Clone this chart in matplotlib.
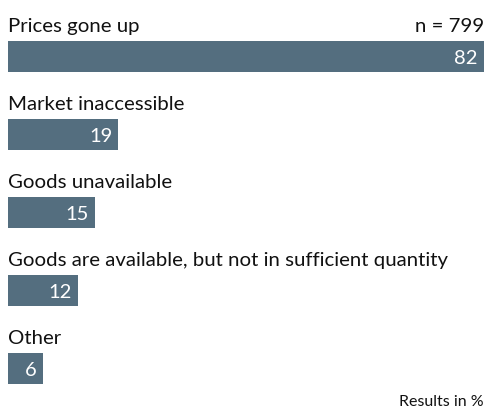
import matplotlib.pyplot as plt

categories = [
    "Prices gone up",
    "Market inaccessible",
    "Goods unavailable",
    "Goods are available, but not in sufficient quantity",
    "Other",
]
values = [82, 19, 15, 12, 6]
sample_note = "n = 799"
unit_note = "Results in %"

BAR_COLOR = "#546E7F"
FONT = ["Lato", "DejaVu Sans"]

fig = plt.figure(figsize=(4.86, 4.10), dpi=100)
# axes spans the whole figure; y runs in pixels from the top
ax = fig.add_axes([8 / 486, 0, 478 / 486, 1])
ax.set_xlim(0, 478 / 5.8)
ax.set_ylim(410, 0)
ax.axis("off")

row_step = 78
bar_top0 = 42
bar_h = 31

for i, (cat, val) in enumerate(zip(categories, values)):
    top = bar_top0 + i * row_step
    ax.barh(top + bar_h / 2, val, height=bar_h, left=0, color=BAR_COLOR)
    ax.text(0, top - 10, cat, fontsize=14.7, family=FONT, color="#111111",
            ha="left", va="baseline")
    ax.text(val - 6 / 5.8, top + bar_h / 2 + 1, str(val), fontsize=14.5,
            family=FONT, color="white", ha="right", va="center")

ax.text(476 / 5.8, bar_top0 - 10, sample_note, fontsize=14.7, family=FONT,
        color="#111111", ha="right", va="baseline")
ax.text(476 / 5.8, 406, unit_note, fontsize=11.5, family=FONT,
        color="#111111", ha="right", va="baseline")

fig.savefig("out.png", dpi=100)
